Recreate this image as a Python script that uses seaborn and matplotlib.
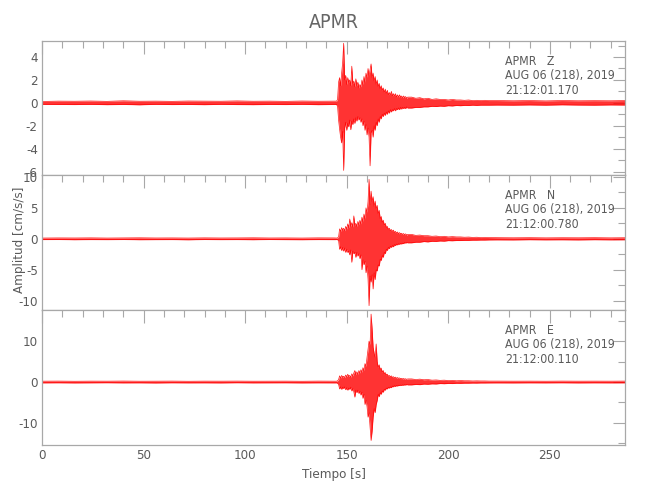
import numpy as np
import pandas as pd
import matplotlib
matplotlib.use("Agg")
import matplotlib.pyplot as plt
from matplotlib.ticker import MultipleLocator
import seaborn as sns

# ---------------- data (envelopes) ----------------
station = "APMR"
components = ["Z", "N", "E"]
dates = ["AUG 06 (218), 2019"] * 3
start_times = ["21:12:01.170", "21:12:00.780", "21:12:00.110"]

# time grid segments (s)
t_pre = np.arange(0, 145, 8)                     # 19 samples
t_main = np.arange(145, 180.01, 0.5)             # 71 samples
t_coda = np.arange(182, 220.01, 2)               # 20 samples
t_tail = np.append(np.arange(224, 281, 8), 287)  # 9 samples

# ---- Z ----
z_hi_pre = [0.12, 0.15, 0.14, 0.16, 0.13, 0.18, 0.14, 0.15, 0.13, 0.16, 0.15, 0.14, 0.17, 0.14, 0.15, 0.13, 0.16, 0.14, 0.15]
z_lo_pre = [-0.13, -0.14, -0.15, -0.13, -0.16, -0.14, -0.17, -0.13, -0.15, -0.14, -0.16, -0.13, -0.15, -0.16, -0.14, -0.15, -0.13, -0.16, -0.14]
z_hi_main = [0.15, 0.3, 1.8, 2.2, 1.5, 2.6, 3.5, 5.2, 2.0, 2.4,
             1.6, 2.2, 1.8, 2.0, 1.5, 3.2, 1.7, 1.9, 1.4, 2.1,
             1.5, 1.8, 1.3, 1.6, 1.4, 2.0, 1.6, 2.3, 1.8, 2.6,
             2.2, 3.0, 2.4, 2.9, 3.4, 2.2, 2.6, 1.9, 2.3, 1.6,
             2.0, 1.4, 1.7, 1.2, 1.5, 1.1, 1.3, 0.9, 1.2, 0.8,
             1.1, 0.7, 0.9, 0.7, 1.0, 0.6, 0.8, 0.6, 0.8, 0.5,
             0.7, 0.5, 0.7, 0.5, 0.6, 0.45, 0.6, 0.45, 0.55, 0.4,
             0.5]
z_lo_main = [-0.15, -0.3, -1.5, -2.3, -3.0, -3.5, -2.5, -5.9, -2.2, -1.7,
             -2.4, -1.8, -2.1, -1.5, -2.35, -1.6, -1.9, -1.4, -1.8, -1.3,
             -1.6, -1.2, -1.5, -1.3, -1.7, -1.4, -2.0, -1.6, -2.4, -1.9,
             -2.8, -2.2, -3.0, -5.5, -2.6, -2.4, -3.0, -2.0, -2.4, -1.7,
             -2.0, -1.4, -1.7, -1.2, -1.4, -1.0, -1.2, -0.9, -1.1, -0.8,
             -1.0, -0.7, -0.9, -0.6, -0.8, -0.6, -0.7, -0.5, -0.7, -0.5,
             -0.6, -0.45, -0.6, -0.4, -0.55, -0.4, -0.5, -0.4, -0.5, -0.35,
             -0.45]
z_hi_coda = [0.5, 0.4, 0.45, 0.35, 0.4, 0.3, 0.35, 0.3, 0.3, 0.25, 0.3, 0.25, 0.25, 0.22, 0.25, 0.2, 0.22, 0.2, 0.22, 0.2]
z_lo_coda = [-0.45, -0.4, -0.4, -0.35, -0.35, -0.3, -0.32, -0.28, -0.3, -0.25, -0.27, -0.23, -0.25, -0.22, -0.23, -0.2, -0.22, -0.2, -0.2, -0.2]
z_hi_tail = [0.2, 0.18, 0.2, 0.17, 0.2, 0.18, 0.19, 0.18, 0.2]
z_lo_tail = [-0.19, -0.2, -0.18, -0.2, -0.17, -0.19, -0.2, -0.18, -0.19]

# ---- N ----
n_hi_pre = [0.12, 0.14, 0.13, 0.15, 0.12, 0.14, 0.16, 0.13, 0.14, 0.12, 0.15, 0.13, 0.14, 0.16, 0.13, 0.14, 0.12, 0.15, 0.14]
n_lo_pre = [-0.13, -0.12, -0.15, -0.13, -0.14, -0.12, -0.15, -0.14, -0.13, -0.16, -0.12, -0.14, -0.13, -0.15, -0.12, -0.14, -0.15, -0.13, -0.14]
n_hi_main = [0.12, 0.15, 0.3, 1.6, 1.2, 1.8, 1.4, 1.7, 1.3, 2.0,
             1.6, 2.4, 1.8, 3.2, 2.0, 2.6, 1.9, 3.7, 2.2, 2.5,
             2.0, 2.8, 2.3, 3.0, 2.4, 3.5, 2.8, 4.0, 3.2, 5.0,
             4.2, 6.0, 9.6, 5.5, 7.7, 6.0, 6.8, 5.2, 6.1, 4.8,
             5.4, 4.0, 4.6, 3.2, 3.6, 2.6, 3.0, 2.2, 2.5, 1.8,
             2.0, 1.5, 1.7, 1.3, 1.5, 1.2, 1.4, 1.0, 1.2, 0.9,
             1.1, 0.8, 1.0, 0.8, 0.9, 0.7, 0.85, 0.65, 0.8, 0.6,
             0.7]
n_lo_main = [-0.12, -0.15, -0.3, -1.7, -1.3, -1.9, -1.4, -2.0, -1.5, -2.2,
             -1.7, -2.2, -2.0, -2.6, -1.8, -3.8, -2.0, -2.4, -2.2, -3.0,
             -2.2, -2.8, -2.4, -3.2, -2.6, -5.0, -3.4, -4.2, -3.6, -5.5,
             -4.4, -6.5, -10.8, -6.0, -7.0, -5.8, -8.1, -5.5, -6.6, -5.0,
             -5.2, -4.2, -4.4, -3.3, -3.5, -2.7, -3.0, -2.2, -2.4, -1.7,
             -1.9, -1.4, -1.6, -1.2, -1.4, -1.1, -1.3, -0.95, -1.1, -0.85,
             -1.0, -0.8, -0.9, -0.75, -0.85, -0.7, -0.8, -0.6, -0.7, -0.6,
             -0.65]
n_hi_coda = [0.7, 0.55, 0.6, 0.5, 0.5, 0.4, 0.45, 0.35, 0.4, 0.3, 0.35, 0.3, 0.3, 0.25, 0.28, 0.22, 0.25, 0.2, 0.22, 0.2]
n_lo_coda = [-0.65, -0.55, -0.55, -0.45, -0.5, -0.4, -0.42, -0.35, -0.38, -0.3, -0.32, -0.28, -0.28, -0.25, -0.25, -0.22, -0.22, -0.2, -0.2, -0.18]
n_hi_tail = [0.18, 0.16, 0.18, 0.15, 0.17, 0.16, 0.18, 0.15, 0.17]
n_lo_tail = [-0.17, -0.18, -0.15, -0.17, -0.16, -0.18, -0.15, -0.17, -0.16]

# ---- E ----
e_hi_pre = [0.2, 0.22, 0.18, 0.21, 0.2, 0.23, 0.19, 0.2, 0.22, 0.18, 0.21, 0.2, 0.22, 0.19, 0.2, 0.21, 0.18, 0.22, 0.2]
e_lo_pre = [-0.21, -0.19, -0.22, -0.2, -0.18, -0.21, -0.2, -0.23, -0.19, -0.21, -0.2, -0.22, -0.18, -0.21, -0.2, -0.19, -0.22, -0.2, -0.21]
e_hi_main = [0.2, 0.3, 0.6, 1.5, 1.0, 1.6, 1.2, 1.4, 1.1, 1.7,
             1.3, 1.9, 1.4, 1.6, 1.2, 2.0, 1.5, 2.2, 2.8, 1.8,
             2.5, 1.9, 2.8, 2.2, 3.0, 2.4, 3.5, 2.8, 4.5, 3.8,
             6.0, 8.0, 10.0, 9.0, 16.6, 13.0, 8.5, 7.0, 6.0, 9.3,
             5.0, 3.6, 4.2, 3.0, 3.4, 2.4, 2.8, 2.0, 2.3, 1.7,
             1.9, 1.4, 1.6, 1.3, 1.5, 1.1, 1.3, 1.0, 1.2, 0.9,
             1.1, 0.9, 1.0, 0.8, 0.9, 0.75, 0.85, 0.7, 0.8, 0.65,
             0.75]
e_lo_main = [-0.2, -0.3, -0.6, -1.7, -1.2, -1.8, -1.3, -1.6, -1.2, -1.9,
             -1.4, -2.0, -1.5, -1.8, -1.3, -2.2, -1.6, -2.4, -3.7, -2.0,
             -2.6, -2.0, -2.8, -2.3, -3.2, -2.5, -4.0, -3.0, -5.5, -4.5,
             -6.0, -8.6, -7.5, -11.0, -14.3, -12.0, -8.6, -6.5, -7.5, -5.5,
             -4.5, -3.0, -3.6, -2.6, -3.0, -2.2, -2.5, -1.8, -2.0, -1.5,
             -1.7, -1.3, -1.5, -1.2, -1.4, -1.0, -1.2, -0.9, -1.1, -0.85,
             -1.0, -0.8, -0.9, -0.75, -0.85, -0.7, -0.8, -0.65, -0.75, -0.6,
             -0.7]
e_hi_coda = [0.75, 0.6, 0.7, 0.55, 0.6, 0.45, 0.5, 0.4, 0.45, 0.35, 0.4, 0.3, 0.35, 0.3, 0.3, 0.25, 0.28, 0.25, 0.25, 0.22]
e_lo_coda = [-0.7, -0.6, -0.65, -0.5, -0.55, -0.45, -0.48, -0.38, -0.42, -0.35, -0.38, -0.3, -0.32, -0.28, -0.28, -0.25, -0.26, -0.23, -0.23, -0.22]
e_hi_tail = [0.22, 0.2, 0.21, 0.19, 0.22, 0.2, 0.21, 0.2, 0.22]
e_lo_tail = [-0.21, -0.22, -0.2, -0.21, -0.19, -0.22, -0.2, -0.21, -0.2]

y_limits = [(-6.3, 5.4), (-11.5, 10.3), (-15.4, 17.6)]
y_major = [2, 5, 10]
y_minor = [1, 2.5, 5]

# ---------------- build table ----------------
t_all = np.concatenate([t_pre, t_main, t_coda, t_tail])
traces = {
    "Z": (z_hi_pre + z_hi_main + z_hi_coda + z_hi_tail, z_lo_pre + z_lo_main + z_lo_coda + z_lo_tail),
    "N": (n_hi_pre + n_hi_main + n_hi_coda + n_hi_tail, n_lo_pre + n_lo_main + n_lo_coda + n_lo_tail),
    "E": (e_hi_pre + e_hi_main + e_hi_coda + e_hi_tail, e_lo_pre + e_lo_main + e_lo_coda + e_lo_tail),
}
frames = []
for comp, (hi, lo) in traces.items():
    assert len(hi) == len(t_all) and len(lo) == len(t_all), comp
    frames.append(pd.DataFrame({"t": t_all, "hi": hi, "lo": lo, "comp": comp}))
df = pd.concat(frames, ignore_index=True)

# ---------------- plot ----------------
sns.set_style("white")
plt.rcParams["font.family"] = ["DejaVu Sans"]
plt.rcParams["font.stretch"] = "condensed"
plt.rcParams["axes.unicode_minus"] = False

gray_axis = "#a8a8a8"
gray_text = "#5a5a5a"
red = "#ff0000"
fs = 9.5
fs_note = 8.8

fig = plt.figure(figsize=(6.5, 5.0), dpi=100)
left, width = 42 / 650, (625 - 42) / 650
tops = [41, 175, 310]
bots = [175, 310, 445]
axes = []
for i in range(3):
    b = 1 - bots[i] / 500
    h = (bots[i] - tops[i]) / 500
    axes.append(fig.add_axes([left, b, width, h]))

for i, (ax, comp) in enumerate(zip(axes, components)):
    d = df[df["comp"] == comp]
    ax.fill_between(d["t"], d["lo"], d["hi"], color=red, alpha=0.8, lw=0)
    sns.lineplot(data=d, x="t", y="hi", ax=ax, color=red, lw=0.5, alpha=0.9)
    sns.lineplot(data=d, x="t", y="lo", ax=ax, color=red, lw=0.5, alpha=0.9)
    ax.set_xlim(0, 287)
    ax.set_ylim(*y_limits[i])
    ax.xaxis.set_major_locator(MultipleLocator(50))
    ax.xaxis.set_minor_locator(MultipleLocator(10))
    ax.yaxis.set_major_locator(MultipleLocator(y_major[i]))
    ax.yaxis.set_minor_locator(MultipleLocator(y_minor[i]))
    ax.tick_params(which="both", direction="in", top=True, right=True,
                   color=gray_axis, labelcolor=gray_text, labelsize=fs, width=0.8, pad=3)
    ax.tick_params(which="major", length=9)
    ax.tick_params(which="minor", length=5)
    for s in ax.spines.values():
        s.set_color(gray_axis)
        s.set_linewidth(0.9)
    ax.set_xlabel("")
    ax.set_ylabel("")
    if i < 2:
        ax.tick_params(labelbottom=False)
    for txt, yy in zip([f"{station}   {comp}", dates[i], start_times[i]], [0.845, 0.745, 0.630]):
        ax.text(0.794, yy, txt, transform=ax.transAxes, color=gray_text,
                fontsize=fs_note, va="center", ha="left", fontstretch="condensed")

axes[2].set_xlabel("Tiempo [s]", color=gray_text, fontsize=fs, labelpad=4)
fig.text(20 / 650, 1 - 240 / 500, "Amplitud [cm/s/s]", rotation=90,
         color=gray_text, fontsize=fs, ha="center", va="center")
fig.text(333.5 / 650, 1 - 22 / 500, station, color="#666666", fontsize=14,
         ha="center", va="center")

fig.savefig("out.png", dpi=100, facecolor="white")
